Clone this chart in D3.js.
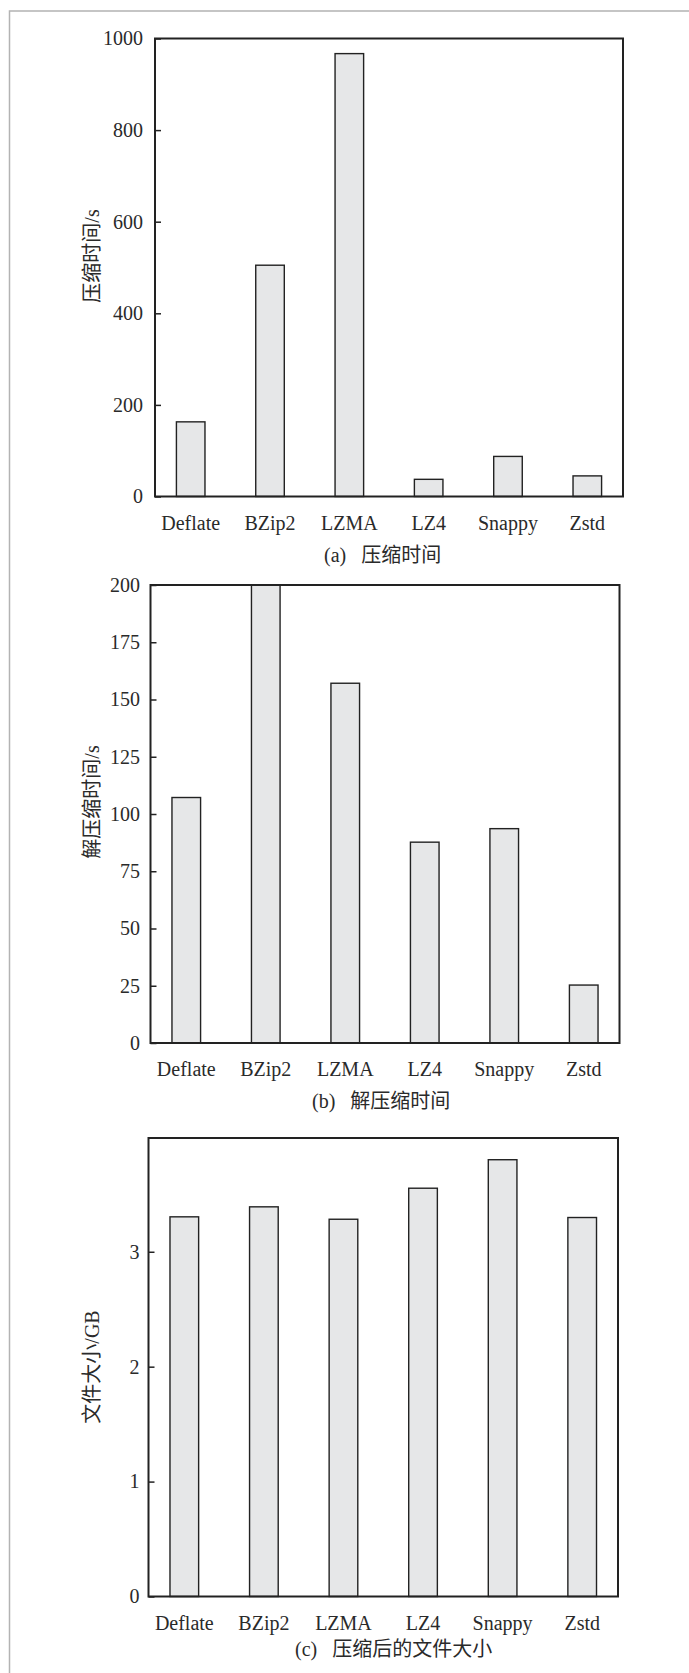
<!DOCTYPE html>
<html>
<head>
<meta charset="utf-8">
<script src="https://cdn.jsdelivr.net/npm/d3@7/dist/d3.min.js"></script>
<style>
  html, body { margin: 0; padding: 0; background: #fff; }
  svg { display: block; }
  svg text {
    font-family: "Liberation Serif", "Times New Roman", Times, "DejaVu Serif", "Noto Sans CJK SC", serif !important;
    fill: #2a2a2a;
  }
</style>
</head>
<body>
<script>
// Compression algorithms compared in all three panels
const algorithms = ["Deflate", "BZip2", "LZMA", "LZ4", "Snappy", "Zstd"];

// (a) compression time, seconds
const compressTime = [163, 505, 967, 37.5, 87.5, 45];
const compressTicks = [0, 200, 400, 600, 800, 1000];

// (b) decompression time, seconds
const decompressTime = [107.2, 200, 157.1, 87.7, 93.6, 25.3];
const decompressTicks = [0, 25, 50, 75, 100, 125, 150, 175, 200];

// (c) compressed file size, GB
const fileSize = [3.304, 3.391, 3.283, 3.553, 3.801, 3.298];
const fileSizeTicks = [0, 1, 2, 3];

const W = 689, H = 1673;
const svg = d3.select("body").append("svg").attr("width", W).attr("height", H);

// light page frame (top and left edges)
svg.append("path")
  .attr("d", `M9.5,${H}V11H${W}`)
  .attr("fill", "none").attr("stroke", "#b3b3b3").attr("stroke-width", 1.5);

const panels = [
  { values: compressTime, ticks: compressTicks, max: 1000, pad: 12,
    box: { x0: 155, x1: 623, y0: 38.5, y1: 496.5 },
    yTitle: "压缩时间/s", yTitleY: 256,
    caption: "(a)\u00a0\u00a0\u00a0压缩时间", capX: 324, capY: 562 },
  { values: decompressTime, ticks: decompressTicks, max: 200, pad: 10.5,
    box: { x0: 150.5, x1: 619.5, y0: 585, y1: 1043 },
    yTitle: "解压缩时间/s", yTitleY: 802,
    caption: "(b)\u00a0\u00a0\u00a0解压缩时间", capX: 312, capY: 1108 },
  { values: fileSize, ticks: fileSizeTicks, max: 3.99, pad: 9,
    box: { x0: 148.5, x1: 618, y0: 1138, y1: 1596.5 },
    yTitle: "文件大小/GB", yTitleY: 1367,
    caption: "(c)\u00a0\u00a0\u00a0压缩后的文件大小", capX: 295, capY: 1656 }
];

panels.forEach(p => {
  const b = p.box;
  const g = svg.append("g");

  const x = d3.scaleBand()
    .domain(algorithms)
    .range([b.x0, b.x1])
    .paddingInner(0.64)
    .paddingOuter(0.27);

  const y = d3.scaleLinear().domain([0, p.max]).range([b.y1, b.y0]);

  // bars
  g.selectAll("rect.bar")
    .data(algorithms.map((name, i) => ({ name, v: p.values[i] })))
    .join("rect")
    .attr("class", "bar")
    .attr("x", d => x(d.name))
    .attr("width", x.bandwidth())
    .attr("y", d => y(Math.min(d.v, p.max)))
    .attr("height", d => y(0) - y(Math.min(d.v, p.max)))
    .attr("fill", "#e6e7e8")
    .attr("stroke", "#222")
    .attr("stroke-width", 1.4);

  // y axis with inward ticks
  const yAxis = d3.axisLeft(y).tickValues(p.ticks).tickSize(-6).tickPadding(p.pad)
    .tickFormat(d3.format("d"));
  const ya = g.append("g").attr("transform", `translate(${b.x0},0)`).call(yAxis);
  ya.attr("font-family", null).attr("font-size", 20);
  ya.select(".domain").remove();
  ya.selectAll(".tick line").attr("stroke", "#222").attr("stroke-width", 1.5);
  ya.selectAll(".tick text").attr("font-size", 20);

  // x axis labels (no ticks)
  const xAxis = d3.axisBottom(x).tickSize(0).tickPadding(19);
  const xa = g.append("g").attr("transform", `translate(0,${b.y1})`).call(xAxis);
  xa.attr("font-family", null).attr("font-size", 20);
  xa.select(".domain").remove();
  xa.selectAll(".tick text").attr("font-size", 20);

  // plot frame
  g.append("rect")
    .attr("x", b.x0).attr("y", b.y0)
    .attr("width", b.x1 - b.x0).attr("height", b.y1 - b.y0)
    .attr("fill", "none").attr("stroke", "#222").attr("stroke-width", 2);

  // y title
  g.append("text")
    .attr("transform", `translate(99,${p.yTitleY}) rotate(-90)`)
    .attr("text-anchor", "middle")
    .attr("font-size", 20)
    .text(p.yTitle);

  // caption
  g.append("text")
    .attr("x", p.capX).attr("y", p.capY)
    .attr("font-size", 20)
    .text(p.caption);
});
</script>
</body>
</html>
